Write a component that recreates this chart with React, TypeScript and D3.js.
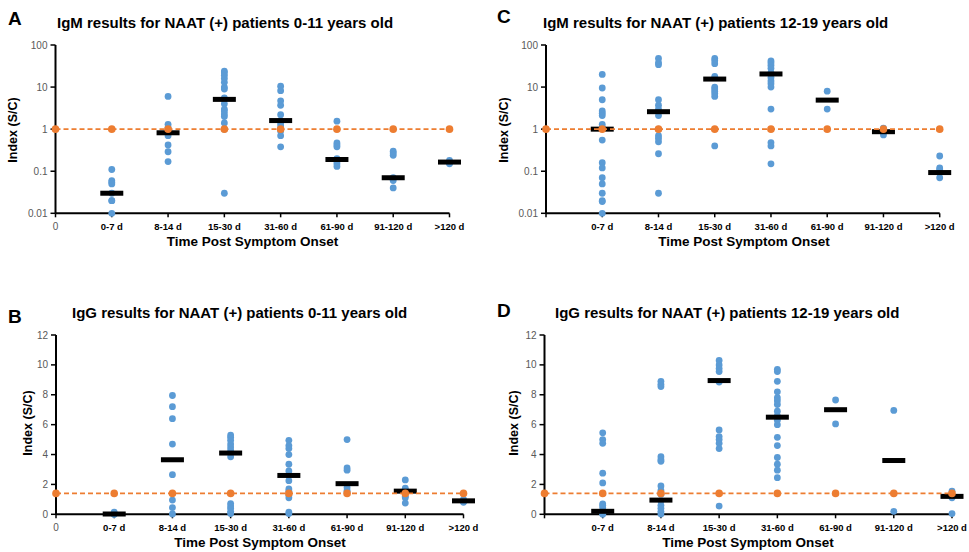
import * as d3 from "d3";
import React from "react";

// categories along the x axis (positions 1..7)
const categories = ["0-7 d", "8-14 d", "15-30 d", "31-60 d", "61-90 d", "91-120 d", ">120 d"];

// IgM, 0-11 years (panel A)
const igmYoung = [
  [0.11, 0.06, 0.055, 0.05, 0.03, 0.02, 0.02, 0.01],
  [6, 1.3, 1.1, 0.9, 0.7, 0.42, 0.29, 0.17],
  [24, 22, 19, 16, 13, 10, 9, 5.5, 5, 4, 3, 2.7, 2.3, 2, 1.4, 1.0, 0.03],
  [10.5, 8.2, 4.7, 3.7, 2.2, 1.6, 1.4, 1.2, 1.0, 0.9, 0.7, 0.38],
  [1.55, 0.47, 0.42, 0.38, 0.2, 0.17, 0.15, 0.13],
  [0.3, 0.27, 0.24, 0.07, 0.06, 0.04],
  [0.18, 0.16, 0.15],
];
const igmYoungMedian = [0.03, 0.82, 5.1, 1.6, 0.19, 0.07, 0.165];

// IgM, 12-19 years (panel C)
const igmOld = [
  [20, 9.5, 5, 2.7, 2.4, 2.1, 1.3, 1.1, 0.55, 0.16, 0.12, 0.07, 0.05, 0.03, 0.02, 0.019, 0.01],
  [48, 38, 34, 5, 3.7, 3, 2.1, 1.0, 0.7, 0.6, 0.5, 0.26, 0.03],
  [48, 42, 36, 18, 10, 9, 8, 7, 6, 0.4],
  [42, 38, 33, 28, 22, 17, 14, 12, 10, 3, 0.48, 0.4, 0.15],
  [8, 3],
  [1.05, 0.85, 0.73],
  [0.23, 0.12, 0.11, 0.07],
];
const igmOldMedian = [1.0, 2.6, 15.5, 20.5, 4.9, 0.87, 0.093];

// IgG, 0-11 years (panel B)
const iggYoung = [
  [0.15, 0.05, 0, 0],
  [7.95, 7.2, 6.4, 4.7, 2.65, 0.95, 0.45, 0.02],
  [5.3, 5.15, 4.95, 4.7, 4.5, 4.3, 3.85, 0.72, 0.55, 0.4, 0.2, 0.05],
  [4.95, 4.6, 4.4, 4.0, 3.35, 2.9, 2.6, 2.25, 1.7, 1.55, 1.3, 1.1, 0.15, 0.05],
  [5, 3.1, 2.95, 1.8, 1.6, 1.5],
  [2.3, 1.75, 1.65, 1.2, 1.1, 0.75],
  [1.0, 0.85, 0.8],
];
const iggYoungMedian = [0.02, 3.65, 4.1, 2.6, 2.05, 1.55, 0.9];

// IgG, 12-19 years (panel D)
const iggOld = [
  [5.45, 5.0, 4.75, 2.75, 2.1, 0.7, 0.6, 0.45, 0.2, 0.05, 0],
  [8.9, 8.7, 8.55, 3.85, 3.65, 3.55, 1.9, 1.6, 1.35, 0.9, 0.6, 0.4, 0.2, 0.02],
  [10.3, 10.0, 9.75, 9.55, 8.85, 5.65, 5.2, 5.0, 4.75, 4.4, 0.55],
  [9.7, 9.55, 8.9, 8.2, 7.8, 7.6, 7.35, 6.9, 6.6, 6.3, 6.0, 5.15, 4.6, 3.8, 3.35, 2.95, 2.45],
  [7.65, 6.05],
  [6.95, 0.2],
  [1.55, 1.1, 0.05],
];
const iggOldMedian = [0.2, 0.95, 8.95, 6.5, 7.0, 3.6, 1.2];

const igmCutoff = 1;
const iggCutoff = 1.4;
const logTicks = [0.01, 0.1, 1, 10, 100];
const linTicks = [0, 2, 4, 6, 8, 10, 12];

const BLUE = "#5B9BD5";
const ORANGE = "#ED7D31";
const FONT = "'Liberation Sans', Arial, sans-serif";

function Panel(props: any) {
  const { letter, title, values, medians, cutoff, log, x0, x7, top, bottom, showZero, lx, ly, tx, ty, yl, xt } = props;
  const x = d3.scaleLinear().domain([0, 7]).range([x0, x7]);
  const y = log
    ? d3.scaleLog().domain([0.01, 100]).range([bottom, top])
    : d3.scaleLinear().domain([0, 12]).range([bottom, top]);
  const ticks = log ? logTicks : linTicks;
  const fmt = (t: number) => (log ? String(t) : String(t));
  const cy = y.range()[0];
  const idx = d3.range(0, 8);

  return (
    <g>
      <text x={lx} y={ly} fontSize={19} fontWeight="bold" fontFamily={FONT}>{letter}</text>
      <text x={tx} y={ty} fontSize={15} fontWeight="bold" fontFamily={FONT}>{title}</text>
      <text transform={`translate(${yl[0]},${yl[1]}) rotate(-90)`} textAnchor="middle" fontSize={12.5} fontWeight="bold" fontFamily={FONT}>Index (S/C)</text>
      <text x={xt[0]} y={xt[1]} textAnchor="middle" fontSize={13.5} fontWeight="bold" fontFamily={FONT}>Time Post Symptom Onset</text>

      {/* y axis */}
      <line x1={x0} x2={x0} y1={top} y2={bottom} stroke="#000" strokeWidth={2} />
      {ticks.map((t) => (
        <g key={t}>
          <line x1={x0 - 5} x2={x0} y1={y(t)} y2={y(t)} stroke="#000" strokeWidth={1.5} />
          <text x={x0 - 8} y={y(t) + 3.5} textAnchor="end" fontSize={10} fill="#595959" fontFamily={FONT}>{fmt(t)}</text>
        </g>
      ))}

      {/* x axis */}
      <line x1={x0} x2={x7} y1={cy} y2={cy} stroke="#000" strokeWidth={2} />
      {idx.map((i) => (
        <line key={i} x1={x(i)} x2={x(i)} y1={cy} y2={cy + 4} stroke="#000" strokeWidth={1.5} />
      ))}
      {showZero && (
        <text x={x(0)} y={cy + 17} textAnchor="middle" fontSize={10} fill="#595959" fontFamily={FONT}>0</text>
      )}
      {categories.map((c, i) => (
        <text key={c} x={x(i + 1)} y={cy + 17} textAnchor="middle" fontSize={9.5} fontWeight="bold" fontFamily={FONT}>{c}</text>
      ))}

      {/* individual results */}
      {values.map((arr: number[], i: number) =>
        arr.map((v, j) => (
          <circle key={`${i}-${j}`} cx={x(i + 1)} cy={y(log ? Math.max(v, 0.01) : v)} r={3.4} fill={BLUE} />
        ))
      )}

      {/* medians */}
      {medians.map((m: number, i: number) => (
        <rect key={i} x={x(i + 1) - 11.5} y={y(m) - 2.5} width={23} height={5} fill="#000" />
      ))}

      {/* cutoff */}
      <line x1={x(0)} x2={x(7)} y1={y(cutoff)} y2={y(cutoff)} stroke={ORANGE} strokeWidth={1.6} strokeDasharray="5 3" />
      {idx.map((i) => (
        <circle key={i} cx={x(i)} cy={y(cutoff)} r={3.8} fill={ORANGE} />
      ))}
    </g>
  );
}

export default function App() {
  return (
    <div style={{ position: "absolute", left: 0, top: 0 }}>
      <svg width={969} height={552} style={{ display: "block", background: "#fff" }}>
        <Panel letter="A" title="IgM results for NAAT (+) patients 0-11 years old"
          values={igmYoung} medians={igmYoungMedian} cutoff={igmCutoff} log
          x0={55.5} x7={449.5} top={45} bottom={213.3} showZero
          lx={8} ly={25} tx={57} ty={28} yl={[17, 130]} xt={[252.5, 246]} />
        <Panel letter="C" title="IgM results for NAAT (+) patients 12-19 years old"
          values={igmOld} medians={igmOldMedian} cutoff={igmCutoff} log
          x0={546} x7={939.7} top={45} bottom={213.3}
          lx={497} ly={23} tx={543} ty={28} yl={[508, 130]} xt={[744, 246]} />
        <Panel letter="B" title="IgG results for NAAT (+) patients 0-11 years old"
          values={iggYoung} medians={iggYoungMedian} cutoff={iggCutoff}
          x0={56} x7={463.5} top={335} bottom={514.3} showZero
          lx={8} ly={323} tx={72} ty={318} yl={[32, 423]} xt={[260, 547]} />
        <Panel letter="D" title="IgG results for NAAT (+) patients 12-19 years old"
          values={iggOld} medians={iggOldMedian} cutoff={iggCutoff}
          x0={544.5} x7={952} top={335} bottom={514.3}
          lx={497} ly={317} tx={555} ty={318} yl={[518, 423]} xt={[748, 547]} />
      </svg>
    </div>
  );
}
